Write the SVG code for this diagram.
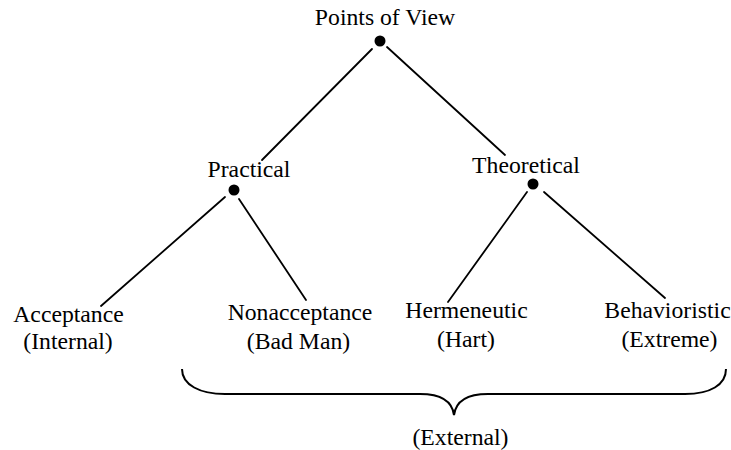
<svg xmlns="http://www.w3.org/2000/svg" width="731" height="450" viewBox="0 0 731 450">
<style>
text{font-family:"Liberation Serif","Times New Roman",serif;font-size:23.7px;fill:#000;text-anchor:middle}
.dot{fill:#000}
.edge{stroke:#000;stroke-width:1.8;fill:none;stroke-linecap:round}
.brace{stroke:#000;stroke-width:2;fill:none}
</style>
<rect width="731" height="450" fill="#fff"/>
<g id="connectors">
<line class="edge" x1="372" y1="49" x2="262" y2="160"/>
<line class="edge" x1="387" y1="47" x2="505" y2="155"/>
<line class="edge" x1="225" y1="197" x2="101" y2="306"/>
<line class="edge" x1="239" y1="199" x2="306" y2="300"/>
<line class="edge" x1="527" y1="192" x2="448" y2="302"/>
<line class="edge" x1="544" y1="192" x2="665" y2="298"/>
</g>
<g id="points-of-view">
<text x="385" y="25">Points of View</text>
<circle class="dot" cx="380" cy="41" r="5.5"/>
</g>
<g id="practical">
<text x="249" y="177">Practical</text>
<circle class="dot" cx="234" cy="190" r="5.5"/>
</g>
<g id="theoretical">
<text x="526" y="173">Theoretical</text>
<circle class="dot" cx="533" cy="184" r="5.5"/>
</g>
<g id="acceptance">
<text x="68.5" y="322">Acceptance</text>
<text x="68" y="349">(Internal)</text>
</g>
<g id="nonacceptance">
<text x="300" y="320">Nonacceptance</text>
<text x="298.5" y="349">(Bad Man)</text>
</g>
<g id="hermeneutic">
<text x="466.5" y="318">Hermeneutic</text>
<text x="466" y="347">(Hart)</text>
</g>
<g id="behavioristic">
<text x="667.5" y="318">Behavioristic</text>
<text x="669.5" y="347">(Extreme)</text>
</g>
<g id="external">
<path class="brace" d="M182,369 C182,385 200,394 225,394 L420,394 C440,394 452,400 454,415 C456,400 468,394 488,394 L685,394 C710,394 726,385 726,369"/>
<text x="460.5" y="445">(External)</text>
</g>
</svg>
